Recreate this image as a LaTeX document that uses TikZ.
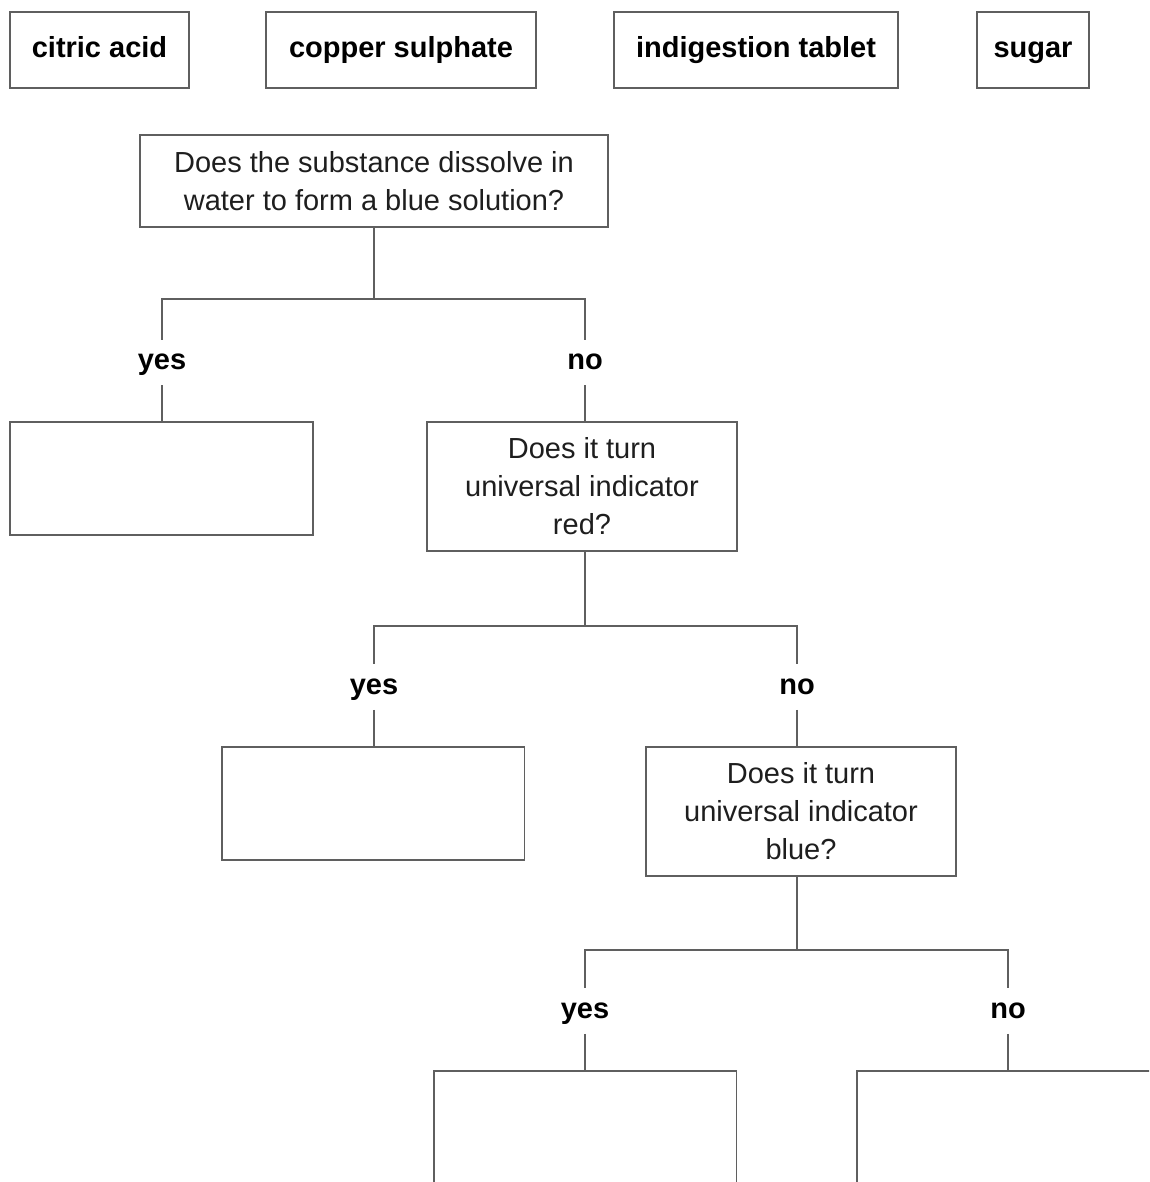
\documentclass[tikz,border=0pt]{standalone}
\usepackage{fontspec}
\setmainfont{Liberation Sans}
\usetikzlibrary{positioning}
\definecolor{linegray}{RGB}{95,95,95}
\definecolor{textgray}{RGB}{30,30,30}

\begin{document}
\begin{tikzpicture}[x=0.02cm, y=-0.02cm,
  box/.style={draw=linegray, line width=1.1pt, inner sep=0pt, align=center,
    font=\fontsize{16.5}{21.6}\selectfont, text=textgray},
  namebox/.style={box, minimum height=1.52cm, text height=12pt, text depth=3.5pt,
    font=\fontsize{16.5}{21.6}\selectfont\bfseries, text=black},
  question/.style={box, minimum width=6.2cm, minimum height=2.58cm},
  answer/.style={box, minimum width=6.06cm, minimum height=2.26cm},
  branch/.style={inner sep=0pt, minimum height=0.9cm, text height=12pt, text depth=3.5pt,
    font=\fontsize{16.5}{21.6}\selectfont\bfseries},
  link/.style={draw=linegray, line width=1.1pt}]

  % Rahmen der Seite
  \useasboundingbox (0,0) rectangle (1149,1182);
  \clip (0,0) rectangle (1149,1182);

  % Substanzen
  \node[namebox, minimum width=3.58cm] (citric) at (99.5,50) {citric acid};
  \node[namebox, minimum width=5.4cm] (copper) at (401,50) {copper sulphate};
  \node[namebox, minimum width=5.68cm] (tablet) at (756,50) {indigestion tablet};
  \node[namebox, minimum width=2.24cm] (sugar) at (1033,50) {sugar};

  % erste Frage
  \node[box, minimum width=9.36cm, minimum height=1.84cm] (q1) at (374,181)
    {Does the substance dissolve in\\water to form a blue solution?};
  \coordinate (fork1) at (374,299);
  \node[branch] (yes1) at (162,362.5) {yes};
  \node[branch] (no1) at (585,362.5) {no};
  \node[answer] (ans1) at (161.5,478.5) {};

  % zweite Frage
  \node[question] (q2) at (582,486.5)
    {Does it turn\\universal indicator\\red?};
  \coordinate (fork2) at (585,626);
  \node[branch] (yes2) at (374,687) {yes};
  \node[branch] (no2) at (797,687) {no};
  \node[answer] (ans2) at (373,803.5) {};

  % dritte Frage
  \node[question] (q3) at (801,811.5)
    {Does it turn\\universal indicator\\blue?};
  \coordinate (fork3) at (797,950);
  \node[branch] (yes3) at (585,1011) {yes};
  \node[branch] (no3) at (1008,1011) {no};
  \node[answer] (ans3) at (585,1127.5) {};
  \node[answer] (ans4) at (1008.5,1127.5) {};

  % Verbindungen
  \draw[link] (q1.south) -- (fork1);
  \draw[link] (fork1) -| (yes1.north);
  \draw[link] (fork1) -| (no1.north);
  \draw[link] (yes1.south) -- (yes1.south |- ans1.north);
  \draw[link] (no1.south) -- (no1.south |- q2.north);

  \draw[link] (fork2 |- q2.south) -- (fork2);
  \draw[link] (fork2) -| (yes2.north);
  \draw[link] (fork2) -| (no2.north);
  \draw[link] (yes2.south) -- (yes2.south |- ans2.north);
  \draw[link] (no2.south) -- (no2.south |- q3.north);

  \draw[link] (fork3 |- q3.south) -- (fork3);
  \draw[link] (fork3) -| (yes3.north);
  \draw[link] (fork3) -| (no3.north);
  \draw[link] (yes3.south) -- (yes3.south |- ans3.north);
  \draw[link] (no3.south) -- (no3.south |- ans4.north);
\end{tikzpicture}
\end{document}
